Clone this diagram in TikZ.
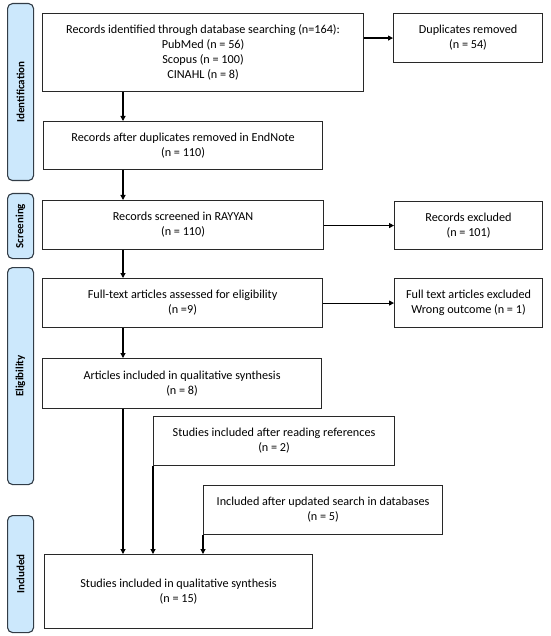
\documentclass[tikz,border=0pt]{standalone}
\usepackage{fontspec}
\setmainfont{Carlito}
\usetikzlibrary{arrows.meta}
\definecolor{phasefill}{RGB}{204,232,252}
\definecolor{phasedraw}{RGB}{50,60,70}
\definecolor{boxdraw}{RGB}{40,40,40}
\tikzset{
  box/.style={draw=boxdraw, line width=1.1pt, rectangle, inner sep=0pt, anchor=north west, align=center, font=\fontsize{12.2}{15}\selectfont},
  phase/.style={draw=phasedraw, fill=phasefill, line width=1.1pt, rounded corners=5pt, rectangle, inner sep=0pt, anchor=north west},
  phaselabel/.style={rotate=90, font=\bfseries\fontsize{11}{13}\selectfont},
  arr/.style={draw=black, line width=1.1pt, -{Triangle[length=5pt,width=5pt]}},
}
\begin{document}
\begin{tikzpicture}[x=1pt,y=-1pt]
\useasboundingbox (0,0) rectangle (550,636);
% phases
\node[phase, minimum width=26pt, minimum height=177pt] (ph1) at (7,3) {};
\node[phaselabel] at (ph1.center) {Identification};
\node[phase, minimum width=26pt, minimum height=65pt] (ph2) at (7,193) {};
\node[phaselabel] at (ph2.center) {Screening};
\node[phase, minimum width=26pt, minimum height=217pt] (ph3) at (7,267) {};
\node[phaselabel] at (ph3.center) {Eligibility};
\node[phase, minimum width=26pt, minimum height=117pt] (ph4) at (7,515) {};
\node[phaselabel] at (ph4.center) {Included};
% boxes
\node[box, minimum width=321pt, minimum height=78pt] (b1) at (42,13) {Records identified through database searching (n=164):\\PubMed (n = 56)\\Scopus (n = 100)\\CINAHL (n = 8)};
\node[box, minimum width=149pt, minimum height=49pt] (dup) at (393,13) {Duplicates removed\\(n = 54)};
\node[box, minimum width=279pt, minimum height=48pt] (b2) at (43,121) {Records after duplicates removed in EndNote\\(n = 110)};
\node[box, minimum width=281pt, minimum height=49pt] (b3) at (42,200) {Records screened in RAYYAN\\(n = 110)};
\node[box, minimum width=148pt, minimum height=48pt] (exc) at (394,201) {Records excluded\\(n = 101)};
\node[box, minimum width=280pt, minimum height=49pt] (b4) at (42,278) {Full-text articles assessed for eligibility\\(n =9)};
\node[box, minimum width=148pt, minimum height=49pt] (ftx) at (394,278) {Full text articles excluded\\Wrong outcome (n = 1)};
\node[box, minimum width=279pt, minimum height=50pt] (b5) at (42,358) {Articles included in qualitative synthesis\\(n = 8)};
\node[box, minimum width=241pt, minimum height=49pt] (ref) at (153,416) {Studies included after reading references\\(n = 2)};
\node[box, minimum width=239pt, minimum height=49pt] (upd) at (203,485) {Included after updated search in databases\\(n = 5)};
\node[box, minimum width=268pt, minimum height=74pt] (fin) at (44,554) {Studies included in qualitative synthesis\\(n = 15)};
% connectors
\coordinate (c1) at (123,91);
\draw[arr] (b1.south -| c1) -- (b2.north -| c1);
\draw[arr] (b2.south -| c1) -- (b3.north -| c1);
\draw[arr] (b3.south -| c1) -- (b4.north -| c1);
\draw[arr] (b4.south -| c1) -- (b5.north -| c1);
\draw[arr] (b5.south -| c1) -- (fin.north -| c1);
\draw[arr] (b1.east |- dup.west) -- (dup.west);
\draw[arr] (b3.east |- exc.west) -- (exc.west);
\draw[arr] (b4.east |- ftx.west) -- (ftx.west);
\draw[arr] (ref.south west) -- (fin.north -| ref.south west);
\draw[arr] (upd.south west) -- (fin.north -| upd.south west);
\end{tikzpicture}
\end{document}
